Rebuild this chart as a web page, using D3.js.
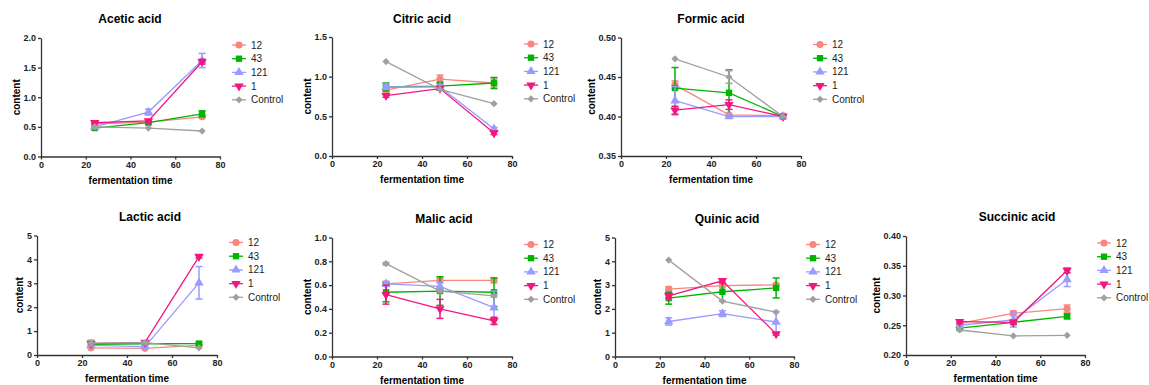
<!DOCTYPE html>
<html>
<head>
<meta charset="utf-8">
<script src="https://cdn.jsdelivr.net/npm/d3@7"></script>
<style>
  body { margin: 0; background: #fff; }
  svg { font-family: "Liberation Sans", Arial, sans-serif; }
  .title { font-size: 12px; font-weight: bold; text-anchor: middle; }
  .axis text { font-size: 9px; font-weight: bold; fill: #222; }
  .axis path, .axis line { stroke: #333; stroke-width: 1.3px; }
  .axis-label { font-size: 10px; font-weight: bold; text-anchor: middle; }
  .legend text { font-size: 10px; fill: #222; }
</style>
</head>
<body>
<div id="chart-area"></div>
<script>
const times = [24, 48, 72];
const xTicks = [0, 20, 40, 60, 80];
const groups = ['12', '43', '121', '1', 'Control'];
const acids = ['Acetic acid', 'Citric acid', 'Formic acid', 'Lactic acid', 'Malic acid', 'Quinic acid', 'Succinic acid'];

// rows follow groups, columns follow times
const acetic = [[0.55, 0.58, 0.67], [0.48, 0.57, 0.72], [0.50, 0.75, 1.62], [0.57, 0.60, 1.60], [0.50, 0.48, 0.43]];
const aceticErr = [[0.03, 0.02, 0.02], [0.02, 0.02, 0.05], [0.02, 0.05, 0.12], [0.02, 0.02, 0.04], [0.01, 0.01, 0.01]];
const citric = [[0.83, 0.97, 0.92], [0.87, 0.88, 0.92], [0.87, 0.87, 0.34], [0.76, 0.85, 0.29], [1.19, 0.84, 0.66]];
const citricErr = [[0.02, 0.05, 0.05], [0.05, 0.05, 0.07], [0.03, 0.03, 0.02], [0.02, 0.02, 0.02], [0.01, 0.01, 0.01]];
const formic = [[0.440, 0.402, 0.401], [0.436, 0.430, 0.400], [0.420, 0.400, 0.400], [0.408, 0.415, 0.400], [0.473, 0.450, 0.400]];
const formicErr = [[0.005, 0.001, 0.001], [0.026, 0.029, 0.001], [0.018, 0.001, 0.001], [0.005, 0.006, 0.001], [0.001, 0.008, 0.001]];
const lactic = [[0.30, 0.28, 0.40], [0.45, 0.47, 0.48], [0.40, 0.35, 3.02], [0.48, 0.53, 4.12], [0.50, 0.52, 0.30]];
const lacticErr = [[0.04, 0.03, 0.03], [0.04, 0.03, 0.05], [0.05, 0.05, 0.68], [0.04, 0.05, 0.06], [0.12, 0.05, 0.03]];
const malic = [[0.61, 0.64, 0.64], [0.54, 0.55, 0.54], [0.61, 0.59, 0.41], [0.52, 0.40, 0.30], [0.78, 0.55, 0.51]];
const malicErr = [[0.02, 0.02, 0.02], [0.08, 0.12, 0.12], [0.02, 0.03, 0.14], [0.08, 0.08, 0.03], [0.01, 0.01, 0.01]];
const quinic = [[2.83, 2.98, 3.01], [2.45, 2.72, 2.88], [1.47, 1.80, 1.45], [2.55, 3.18, 0.95], [4.05, 2.33, 1.86]];
const quinicErr = [[0.10, 0.05, 0.05], [0.25, 0.40, 0.42], [0.15, 0.12, 0.45], [0.10, 0.08, 0.05], [0.02, 0.02, 0.02]];
const succinic = [[0.253, 0.270, 0.278], [0.245, 0.255, 0.265], [0.250, 0.259, 0.327], [0.256, 0.255, 0.342], [0.242, 0.232, 0.233]];
const succinicErr = [[0.003, 0.004, 0.006], [0.002, 0.002, 0.004], [0.003, 0.012, 0.012], [0.003, 0.003, 0.004], [0.001, 0.001, 0.001]];

const yDomains = [[0, 2], [0, 1.5], [0.35, 0.5], [0, 5], [0, 1], [0, 5], [0.2, 0.4]];
const yTicks = [
  [0, 0.5, 1, 1.5, 2],
  [0, 0.5, 1, 1.5],
  [0.35, 0.4, 0.45, 0.5],
  [0, 1, 2, 3, 4, 5],
  [0, 0.2, 0.4, 0.6, 0.8, 1],
  [0, 1, 2, 3, 4, 5],
  [0.2, 0.25, 0.3, 0.35, 0.4]
];
const yFormats = ['.1f', '.1f', '.2f', 'd', '.1f', 'd', '.2f'];

const series = [acetic, citric, formic, lactic, malic, quinic, succinic];
const errors = [aceticErr, citricErr, formicErr, lacticErr, malicErr, quinicErr, succinicErr];

// placement of each small chart on the page
const panels = [
  { x0: 41, x1: 220, top: 38, bot: 156.5, titleX: 130, titleY: 23 },
  { x0: 332, x1: 512, top: 37, bot: 156, titleX: 422, titleY: 23 },
  { x0: 621, x1: 801, top: 37.5, bot: 156, titleX: 711, titleY: 23 },
  { x0: 37, x1: 217, top: 235.5, bot: 355, titleX: 150, titleY: 221 },
  { x0: 332, x1: 512, top: 237.5, bot: 356.5, titleX: 444, titleY: 223 },
  { x0: 615, x1: 794, top: 237.5, bot: 356.5, titleX: 727, titleY: 223 },
  { x0: 906, x1: 1085, top: 236, bot: 355, titleX: 1017, titleY: 221 }
];

const colors = ['#f7867f', '#00b400', '#9a9aff', '#f2177f', '#a0a0a0'];
const symbols = [
  d3.symbol().type(d3.symbolCircle).size(40),
  d3.symbol().type(d3.symbolSquare).size(40),
  d3.symbol().type(d3.symbolTriangle).size(38),
  d3.symbol().type(d3.symbolTriangle).size(38),
  d3.symbol().type(d3.symbolSquare).size(26)
];
const symRotate = [0, 0, 0, 180, 45];

const svg = d3.select('#chart-area').append('svg')
  .attr('width', 1149)
  .attr('height', 385);

const drawPanel = (i) => {
  const p = panels[i];
  const g = svg.append('g').attr('class', 'panel');
  const x = d3.scaleLinear().domain([0, 80]).range([p.x0, p.x1]);
  const y = d3.scaleLinear().domain(yDomains[i]).range([p.bot, p.top]);

  g.append('text')
    .attr('class', 'title')
    .attr('x', p.titleX)
    .attr('y', p.titleY)
    .text(acids[i]);

  g.append('g')
    .attr('class', 'axis')
    .attr('transform', `translate(0,${p.bot})`)
    .call(d3.axisBottom(x).tickValues(xTicks).tickSizeInner(3).tickSizeOuter(0).tickPadding(2));

  const yAxis = g.append('g')
    .attr('class', 'axis')
    .attr('transform', `translate(${p.x0},0)`)
    .call(d3.axisLeft(y).tickValues(yTicks[i]).tickFormat(d3.format(yFormats[i])).tickSizeInner(3).tickSizeOuter(0).tickPadding(2));

  const bb = yAxis.node().getBBox();
  g.append('text')
    .attr('class', 'axis-label')
    .attr('transform', `translate(${p.x0 + bb.x - 7},${(p.top + p.bot) / 2}) rotate(-90)`)
    .attr('dy', '0.35em')
    .text('content');

  g.append('text')
    .attr('class', 'axis-label')
    .attr('x', (p.x0 + p.x1) / 2)
    .attr('y', p.bot + 27)
    .text('fermentation time');

  const line = d3.line().x((d, k) => x(times[k])).y(d => y(d));

  series[i].forEach((vals, s) => {
    const sg = g.append('g').attr('class', 'series');
    sg.append('path')
      .attr('d', line(vals))
      .attr('fill', 'none')
      .attr('stroke', colors[s])
      .attr('stroke-width', 1.3);

    vals.forEach((v, k) => {
      const e = errors[i][s][k];
      const cx = x(times[k]);
      const yTopE = y(v + e), yBotE = y(v - e);
      if (yBotE - yTopE > 2) {
        sg.append('line').attr('x1', cx).attr('x2', cx).attr('y1', yTopE).attr('y2', yBotE)
          .attr('stroke', colors[s]).attr('stroke-width', 1.5);
        [yTopE, yBotE].forEach(yy => sg.append('line')
          .attr('x1', cx - 3.5).attr('x2', cx + 3.5).attr('y1', yy).attr('y2', yy)
          .attr('stroke', colors[s]).attr('stroke-width', 1.5));
      }
    });

    sg.selectAll('path.pt')
      .data(vals)
      .enter()
      .append('path')
      .attr('class', 'pt')
      .attr('d', symbols[s])
      .attr('fill', colors[s])
      .attr('transform', (d, k) => `translate(${x(times[k])},${y(d)}) rotate(${symRotate[s]})`);
  });

  const legend = g.append('g')
    .attr('class', 'legend')
    .attr('transform', `translate(${p.x1 + 12},${p.top + 7})`);
  groups.forEach((name, s) => {
    const row = legend.append('g').attr('transform', `translate(0,${s * 13.7})`);
    row.append('line').attr('x1', 0).attr('x2', 14)
      .attr('stroke', colors[s]).attr('stroke-width', 1.3);
    row.append('path')
      .attr('d', symbols[s])
      .attr('fill', colors[s])
      .attr('transform', `translate(7,0) rotate(${symRotate[s]})`);
    row.append('text')
      .attr('x', 19)
      .attr('dy', '0.35em')
      .text(name);
  });
};

acids.forEach((a, i) => drawPanel(i));
</script>
</body>
</html>
